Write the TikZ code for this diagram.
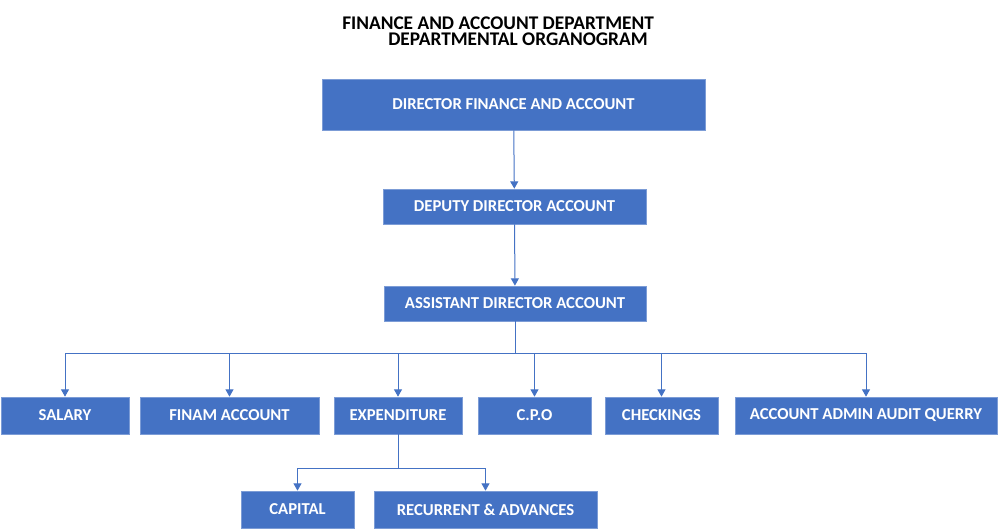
\documentclass[tikz,border=0pt]{standalone}
\usepackage{fontspec}
\setmainfont{Carlito}
\usepackage{tikz}
\usetikzlibrary{arrows.meta}
\definecolor{orgblue}{HTML}{4472C4}

\begin{document}
\begin{tikzpicture}[x=0.75pt,y=0.75pt,yscale=-1,xscale=1,
  box/.style={fill=orgblue,draw=orgblue!70!white,line width=0.5pt,text=white,
    font=\fontsize{12.5}{14}\selectfont\bfseries,inner sep=0pt,anchor=center},
  link/.style={draw=orgblue,line width=0.75pt},
  arr/.style={link,-{Triangle[width=6pt,length=5.5pt]}},
  ttl/.style={font=\fontsize{14.5}{12.4}\selectfont\bfseries,inner sep=0pt,align=left}]
\useasboundingbox (0,0) rectangle (1000,529);

% Title
\node [ttl,anchor=north west] (title) at (342,16.5) {FINANCE AND ACCOUNT DEPARTMENT\\\hspace{34.5pt}DEPARTMENTAL ORGANOGRAM};

% Top of the chart (sizes in pt, 1px = 0.75pt)
\node [box,minimum width=287.25pt,minimum height=38.25pt] (dir) at (513.5,104.5) {DIRECTOR FINANCE AND ACCOUNT};
\node [box,minimum width=197.25pt,minimum height=26.25pt] (dep) at (514.5,206.5) {DEPUTY DIRECTOR ACCOUNT};
\node [box,minimum width=196.5pt,minimum height=26.25pt] (asst) at (515,303.5) {ASSISTANT DIRECTOR ACCOUNT};

% Units
\node [box,minimum width=96pt,minimum height=27.75pt] (salary) at (65,415.5) {SALARY};
\node [box,minimum width=134.25pt,minimum height=27.75pt] (finam) at (229.5,415.5) {FINAM ACCOUNT};
\node [box,minimum width=96pt,minimum height=27.75pt] (expend) at (398,415.5) {EXPENDITURE};
\node [box,minimum width=84.75pt,minimum height=27.75pt] (cpo) at (534.5,415.5) {C.P.O};
\node [box,minimum width=84.75pt,minimum height=27.75pt] (checks) at (661.5,415.5) {CHECKINGS};
\node [box,minimum width=196.5pt,minimum height=27.75pt] (audit) at (866,415.5) {ACCOUNT ADMIN AUDIT QUERRY};

% Expenditure sections
\node [box,minimum width=84.75pt,minimum height=27.75pt] (capital) at (297.5,509.5) {CAPITAL};
\node [box,minimum width=167.25pt,minimum height=27.75pt] (recur) at (485.5,509.5) {RECURRENT \& ADVANCES};

% Connectors
\coordinate (bus) at (515,353);
\coordinate (expbus) at (398,468);
\draw [arr] (dir) -- (dep);
\draw [arr] (dep) -- (asst);
\draw [link] (asst) -- (bus);
\foreach \n in {salary,finam,expend,cpo,checks,audit}
  \draw [arr] (bus) -| (\n);
\draw [link] (expend) -- (expbus);
\foreach \n in {capital,recur}
  \draw [arr] (expbus) -| (\n);

\end{tikzpicture}
\end{document}
